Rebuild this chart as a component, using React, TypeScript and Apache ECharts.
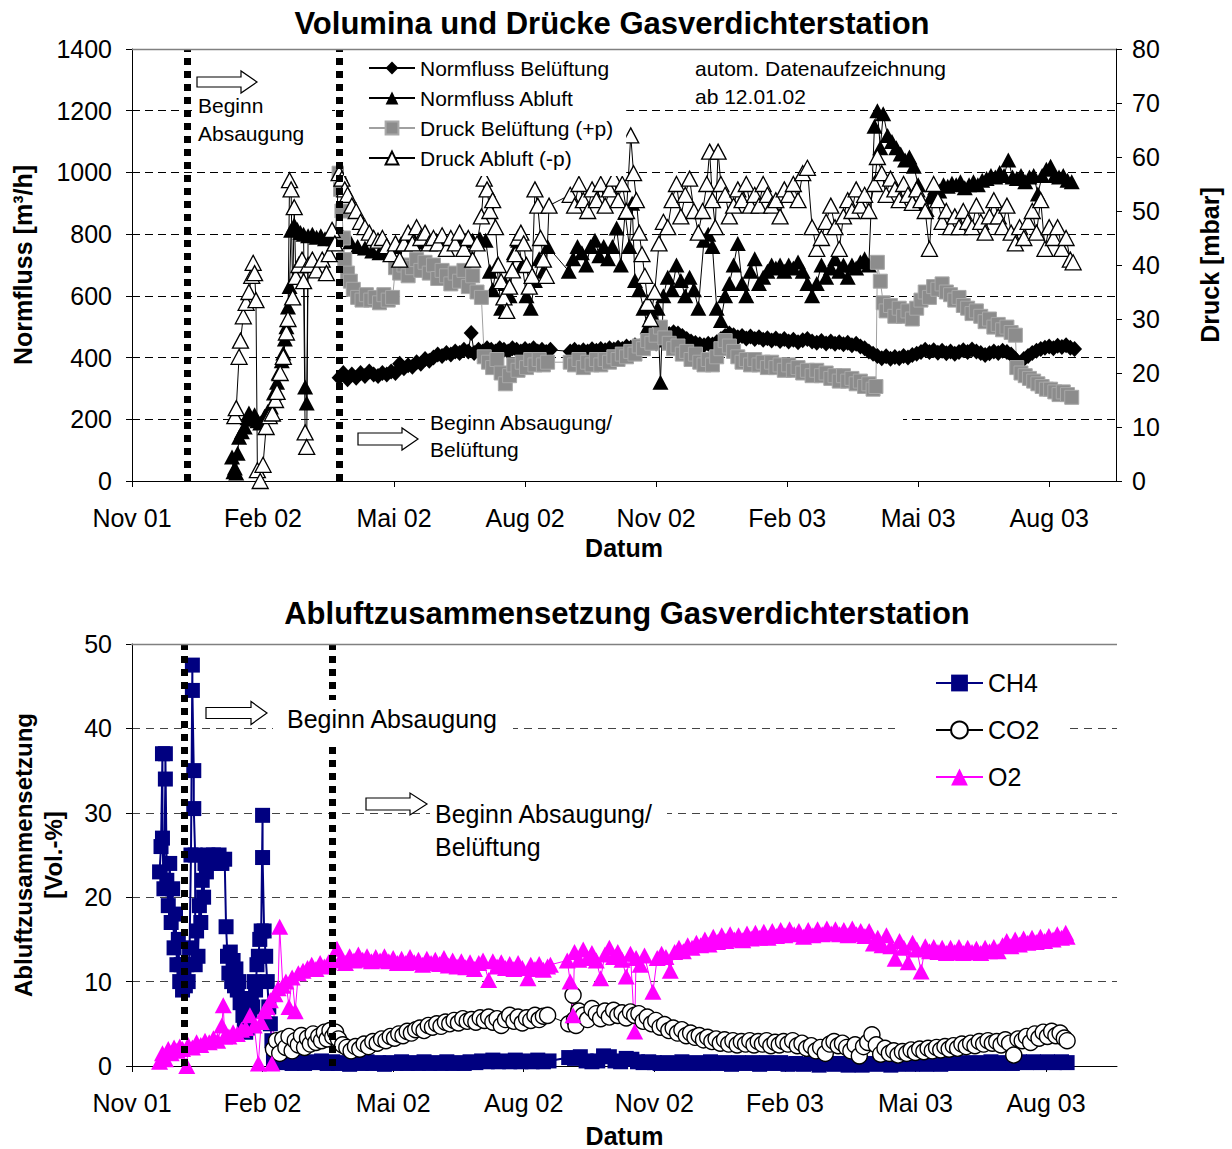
import React, { useEffect, useRef } from "react";
import * as echarts from "echarts";

type Pt = [string, number];

const FONT = "Liberation Sans";

// X axis tick labels (every 3 months from Nov 2001)
const X_TICK_LABELS = ["Nov 01", "Feb 02", "Mai 02", "Aug 02", "Nov 02", "Feb 03", "Mai 03", "Aug 03"];
// Event markers (dotted vertical lines)
const TOP_EVENTS = ["09.12.01", "24.03.02"];
const BOTTOM_EVENTS = ["07.12.01", "20.03.02"];

// ---------- Top chart: Normfluss [m3/h] ----------
const normflussBelueftung: Pt[] = [
  ["24.03.02", 335], ["27.03.02", 350], ["30.03.02", 330], ["02.04.02", 345], ["05.04.02", 335], ["08.04.02", 350],
  ["11.04.02", 340], ["14.04.02", 355], ["17.04.02", 345], ["20.04.02", 340], ["23.04.02", 350], ["26.04.02", 345],
  ["29.04.02", 355], ["02.05.02", 350], ["05.05.02", 380], ["08.05.02", 365], ["11.05.02", 375], ["14.05.02", 370],
  ["17.05.02", 385], ["20.05.02", 380], ["23.05.02", 395], ["26.05.02", 390], ["29.05.02", 400], ["01.06.02", 410],
  ["04.06.02", 405], ["07.06.02", 415], ["10.06.02", 410], ["13.06.02", 420], ["16.06.02", 415], ["19.06.02", 425],
  ["22.06.02", 420], ["24.06.02", 480], ["26.06.02", 415], ["29.06.02", 425], ["02.07.02", 420], ["05.07.02", 430],
  ["08.07.02", 425], ["11.07.02", 420], ["14.07.02", 430], ["17.07.02", 425], ["20.07.02", 420], ["23.07.02", 430],
  ["26.07.02", 425], ["29.07.02", 420], ["01.08.02", 428], ["04.08.02", 422], ["07.08.02", 430], ["10.08.02", 420],
  ["13.08.02", 425], ["16.08.02", 418], ["19.08.02", 425], ["02.09.02", 420], ["05.09.02", 425], ["08.09.02", 418],
  ["11.09.02", 424], ["14.09.02", 420], ["17.09.02", 427], ["20.09.02", 422], ["23.09.02", 428], ["26.09.02", 424],
  ["29.09.02", 430], ["02.10.02", 426], ["05.10.02", 432], ["08.10.02", 428], ["11.10.02", 436], ["14.10.02", 432],
  ["17.10.02", 440], ["20.10.02", 436], ["23.10.02", 445], ["26.10.02", 440], ["29.10.02", 450], ["01.11.02", 446],
  ["04.11.02", 458], ["07.11.02", 468], ["10.11.02", 476], ["13.11.02", 482], ["16.11.02", 478], ["19.11.02", 470],
  ["22.11.02", 460], ["25.11.02", 452], ["28.11.02", 447], ["01.12.02", 443], ["04.12.02", 440], ["07.12.02", 445],
  ["10.12.02", 442], ["13.12.02", 450], ["16.12.02", 460], ["19.12.02", 470], ["22.12.02", 478], ["25.12.02", 472],
  ["28.12.02", 466], ["31.12.02", 470], ["03.01.03", 462], ["06.01.03", 468], ["09.01.03", 460], ["12.01.03", 466],
  ["15.01.03", 458], ["18.01.03", 463], ["21.01.03", 455], ["24.01.03", 462], ["27.01.03", 454], ["30.01.03", 460],
  ["02.02.03", 452], ["05.02.03", 458], ["08.02.03", 450], ["11.02.03", 456], ["14.02.03", 460], ["17.02.03", 452],
  ["20.02.03", 448], ["23.02.03", 454], ["26.02.03", 446], ["01.03.03", 452], ["04.03.03", 445], ["07.03.03", 450],
  ["10.03.03", 443], ["13.03.03", 448], ["16.03.03", 440], ["19.03.03", 445], ["22.03.03", 436], ["25.03.03", 430],
  ["28.03.03", 420], ["31.03.03", 412], ["03.04.03", 405], ["06.04.03", 398], ["09.04.03", 404], ["12.04.03", 396],
  ["15.04.03", 402], ["18.04.03", 398], ["21.04.03", 405], ["24.04.03", 400], ["27.04.03", 408], ["30.04.03", 412],
  ["03.05.03", 418], ["06.05.03", 425], ["09.05.03", 418], ["12.05.03", 424], ["15.05.03", 416], ["18.05.03", 422],
  ["21.05.03", 414], ["24.05.03", 420], ["27.05.03", 412], ["30.05.03", 418], ["02.06.03", 424], ["05.06.03", 418],
  ["08.06.03", 426], ["11.06.03", 420], ["14.06.03", 415], ["17.06.03", 408], ["20.06.03", 414], ["23.06.03", 420],
  ["26.06.03", 415], ["29.06.03", 422], ["02.07.03", 418], ["05.07.03", 410], ["08.07.03", 395], ["11.07.03", 382],
  ["14.07.03", 395], ["17.07.03", 405], ["20.07.03", 415], ["23.07.03", 422], ["26.07.03", 428], ["29.07.03", 432],
  ["01.08.03", 436], ["04.08.03", 430], ["07.08.03", 438], ["10.08.03", 434], ["13.08.03", 440], ["16.08.03", 432],
  ["19.08.03", 428],
];

const normflussAbluft: Pt[] = [
  ["10.01.02", 78], ["11.01.02", 30], ["12.01.02", 42], ["13.01.02", 26], ["14.01.02", 90], ["15.01.02", 142],
  ["17.01.02", 160], ["19.01.02", 175], ["21.01.02", 205], ["22.01.02", 220], ["24.01.02", 200], ["26.01.02", 215],
  ["28.01.02", 195], ["30.01.02", 188], ["02.02.02", 210], ["04.02.02", 225], ["06.02.02", 240], ["08.02.02", 285],
  ["10.02.02", 320], ["11.02.02", 350], ["13.02.02", 390], ["14.02.02", 415], ["15.02.02", 460], ["16.02.02", 500],
  ["17.02.02", 564], ["18.02.02", 630], ["19.02.02", 813], ["21.02.02", 830], ["23.02.02", 815], ["25.02.02", 805],
  ["27.02.02", 800], ["28.02.02", 305], ["01.03.02", 253], ["02.03.02", 795], ["05.03.02", 800], ["08.03.02", 790],
  ["11.03.02", 795], ["14.03.02", 785], ["17.03.02", 790], ["20.03.02", 785], ["23.03.02", 795], ["27.03.02", 790],
  ["01.04.02", 775], ["06.04.02", 760], ["11.04.02", 755], ["16.04.02", 745], ["21.04.02", 740], ["26.04.02", 745],
  ["01.05.02", 760], ["06.05.02", 770], ["11.05.02", 770], ["16.05.02", 775], ["21.05.02", 780], ["26.05.02", 775],
  ["31.05.02", 780], ["05.06.02", 785], ["10.06.02", 780], ["15.06.02", 785], ["20.06.02", 780], ["25.06.02", 780],
  ["30.06.02", 785], ["04.07.02", 780], ["07.07.02", 680], ["09.07.02", 620], ["12.07.02", 700], ["15.07.02", 560],
  ["18.07.02", 640], ["21.07.02", 600], ["24.07.02", 740], ["27.07.02", 780], ["30.07.02", 700], ["02.08.02", 600],
  ["05.08.02", 560], ["08.08.02", 650], ["11.08.02", 720], ["14.08.02", 680], ["17.08.02", 760], ["01.09.02", 680],
  ["04.09.02", 720], ["07.09.02", 760], ["10.09.02", 740], ["13.09.02", 700], ["16.09.02", 760], ["19.09.02", 780],
  ["22.09.02", 730], ["25.09.02", 760], ["28.09.02", 720], ["01.10.02", 760], ["04.10.02", 820], ["07.10.02", 700],
  ["10.10.02", 870], ["13.10.02", 760], ["15.10.02", 900], ["17.10.02", 650], ["20.10.02", 620], ["23.10.02", 560],
  ["26.10.02", 500], ["29.10.02", 540], ["02.11.02", 560], ["04.11.02", 320], ["06.11.02", 600], ["09.11.02", 660],
  ["12.11.02", 620], ["15.11.02", 700], ["18.11.02", 650], ["21.11.02", 600], ["24.11.02", 660], ["27.11.02", 620],
  ["30.11.02", 560], ["04.12.02", 780], ["07.12.02", 800], ["10.12.02", 760], ["13.12.02", 560], ["16.12.02", 520],
  ["19.12.02", 600], ["22.12.02", 640], ["25.12.02", 700], ["28.12.02", 770], ["31.12.02", 640], ["03.01.03", 600],
  ["06.01.03", 680], ["09.01.03", 720], ["12.01.03", 640], ["15.01.03", 660], ["18.01.03", 680], ["21.01.03", 700],
  ["24.01.03", 690], ["27.01.03", 700], ["30.01.03", 680], ["02.02.03", 700], ["05.02.03", 690], ["08.02.03", 710],
  ["11.02.03", 680], ["14.02.03", 640], ["17.02.03", 600], ["20.02.03", 640], ["23.02.03", 700], ["26.02.03", 660],
  ["01.03.03", 690], ["04.03.03", 720], ["07.03.03", 680], ["10.03.03", 700], ["13.03.03", 660], ["16.03.03", 700],
  ["19.03.03", 690], ["22.03.03", 710], ["25.03.03", 720], ["28.03.03", 700], ["01.04.03", 1150], ["03.04.03", 1200],
  ["05.04.03", 1080], ["07.04.03", 1190], ["10.04.03", 1120], ["13.04.03", 1100], ["16.04.03", 1080], ["19.04.03", 1060],
  ["22.04.03", 1040], ["25.04.03", 1050], ["28.04.03", 1020], ["01.05.03", 960], ["04.05.03", 900], ["07.05.03", 880],
  ["10.05.03", 920], ["13.05.03", 950], ["16.05.03", 940], ["19.05.03", 960], ["22.05.03", 955], ["25.05.03", 965],
  ["28.05.03", 960], ["31.05.03", 970], ["03.06.03", 950], ["06.06.03", 960], ["09.06.03", 970], ["12.06.03", 960],
  ["15.06.03", 975], ["18.06.03", 980], ["21.06.03", 990], ["24.06.03", 985], ["27.06.03", 1000], ["30.06.03", 990],
  ["03.07.03", 1040], ["06.07.03", 985], ["09.07.03", 980], ["12.07.03", 990], ["15.07.03", 970], ["18.07.03", 985],
  ["21.07.03", 990], ["24.07.03", 930], ["27.07.03", 990], ["30.07.03", 1010], ["02.08.03", 1020], ["05.08.03", 990],
  ["08.08.03", 985], ["11.08.03", 990], ["14.08.03", 975], ["17.08.03", 970],
];

// ---------- Top chart: Druck [mbar] ----------
const druckBelueftung: Pt[] = [
  ["24.03.02", 57], ["25.03.02", 54], ["26.03.02", 50], ["27.03.02", 45], ["28.03.02", 41], ["30.03.02", 38.5],
  ["01.04.02", 37], ["03.04.02", 35.5], ["06.04.02", 34], ["09.04.02", 33.5], ["12.04.02", 34.5], ["15.04.02", 33.5],
  ["18.04.02", 34], ["21.04.02", 33], ["24.04.02", 34.5], ["27.04.02", 33.5], ["30.04.02", 34], ["02.05.02", 39.5],
  ["05.05.02", 38.5], ["08.05.02", 40], ["11.05.02", 38], ["14.05.02", 39.5], ["17.05.02", 41], ["20.05.02", 39],
  ["23.05.02", 40.5], ["26.05.02", 38.5], ["29.05.02", 40], ["01.06.02", 37.5], ["04.06.02", 39], ["07.06.02", 38],
  ["10.06.02", 36.5], ["13.06.02", 38.5], ["16.06.02", 37], ["19.06.02", 39], ["22.06.02", 36], ["25.06.02", 38],
  ["28.06.02", 35], ["01.07.02", 34], ["03.07.02", 23], ["06.07.02", 22], ["09.07.02", 21], ["12.07.02", 22.5],
  ["15.07.02", 20], ["18.07.02", 18], ["21.07.02", 19.5], ["24.07.02", 21.5], ["27.07.02", 20.5], ["30.07.02", 22],
  ["02.08.02", 21], ["05.08.02", 22.5], ["08.08.02", 21.5], ["11.08.02", 22.5], ["14.08.02", 21.5], ["17.08.02", 22],
  ["02.09.02", 22], ["05.09.02", 21.5], ["08.09.02", 22.5], ["11.09.02", 21], ["14.09.02", 22], ["17.09.02", 21.5],
  ["20.09.02", 22.5], ["23.09.02", 21.5], ["26.09.02", 22.5], ["29.09.02", 22], ["02.10.02", 23], ["05.10.02", 22.5],
  ["08.10.02", 23.5], ["11.10.02", 23], ["14.10.02", 24], ["17.10.02", 23.5], ["20.10.02", 25], ["23.10.02", 24.5],
  ["26.10.02", 26], ["29.10.02", 25.5], ["01.11.02", 27], ["04.11.02", 28.5], ["07.11.02", 26.5], ["10.11.02", 25.5],
  ["13.11.02", 24.5], ["16.11.02", 25], ["19.11.02", 23.5], ["22.11.02", 24], ["25.11.02", 22.5], ["28.11.02", 23.5],
  ["01.12.02", 22], ["04.12.02", 21.5], ["07.12.02", 22.5], ["10.12.02", 21.5], ["13.12.02", 23], ["16.12.02", 24.5],
  ["19.12.02", 26], ["22.12.02", 25], ["25.12.02", 24], ["28.12.02", 23], ["31.12.02", 22], ["03.01.03", 22.5],
  ["06.01.03", 21.5], ["09.01.03", 22.5], ["12.01.03", 21.5], ["15.01.03", 22], ["18.01.03", 21], ["21.01.03", 22],
  ["24.01.03", 21], ["27.01.03", 21.5], ["30.01.03", 20.5], ["02.02.03", 21.5], ["05.02.03", 20.5], ["08.02.03", 21],
  ["11.02.03", 20], ["14.02.03", 20.5], ["17.02.03", 19.5], ["20.02.03", 20.5], ["23.02.03", 19.5], ["26.02.03", 20],
  ["01.03.03", 19], ["04.03.03", 19.5], ["07.03.03", 18.5], ["10.03.03", 19.5], ["13.03.03", 18.5], ["16.03.03", 19],
  ["19.03.03", 18], ["22.03.03", 18.5], ["25.03.03", 17.5], ["28.03.03", 18], ["31.03.03", 17], ["02.04.03", 17.5],
  ["03.04.03", 40.5], ["05.04.03", 37], ["07.04.03", 33], ["09.04.03", 31.5], ["12.04.03", 32.5], ["15.04.03", 30.5],
  ["18.04.03", 32], ["21.04.03", 30.5], ["24.04.03", 31.5], ["27.04.03", 30], ["30.04.03", 32], ["03.05.03", 33.5],
  ["06.05.03", 35], ["09.05.03", 34], ["12.05.03", 36], ["15.05.03", 35.5], ["18.05.03", 36.5], ["21.05.03", 35],
  ["24.05.03", 34.5], ["27.05.03", 33.5], ["30.05.03", 34], ["02.06.03", 32.5], ["05.06.03", 32], ["08.06.03", 31],
  ["11.06.03", 31.5], ["14.06.03", 30.5], ["17.06.03", 29.5], ["20.06.03", 30], ["23.06.03", 28.5], ["26.06.03", 29],
  ["29.06.03", 28], ["02.07.03", 28.5], ["05.07.03", 27.5], ["08.07.03", 27], ["09.07.03", 21], ["12.07.03", 20],
  ["15.07.03", 19.5], ["18.07.03", 19], ["21.07.03", 18.5], ["24.07.03", 18], ["27.07.03", 17.5], ["30.07.03", 17],
  ["02.08.03", 17], ["05.08.03", 16.5], ["08.08.03", 16], ["11.08.03", 16.5], ["14.08.03", 16], ["17.08.03", 15.5],
];

const druckAbluft: Pt[] = [
  ["12.01.02", 12], ["13.01.02", 13.5], ["15.01.02", 23], ["16.01.02", 26], ["18.01.02", 30.5], ["20.01.02", 33],
  ["22.01.02", 35], ["24.01.02", 38], ["25.01.02", 40.4], ["26.01.02", 38.5], ["27.01.02", 33.5], ["28.01.02", 2],
  ["30.01.02", 0], ["01.02.02", 3], ["03.02.02", 10], ["05.02.02", 12], ["07.02.02", 12.5], ["09.02.02", 15],
  ["10.02.02", 16.5], ["12.02.02", 20], ["14.02.02", 23], ["16.02.02", 27.5], ["17.02.02", 30], ["18.02.02", 55.7],
  ["19.02.02", 54], ["20.02.02", 34], ["21.02.02", 50.7], ["22.02.02", 37.8], ["24.02.02", 40], ["26.02.02", 41],
  ["27.02.02", 37], ["28.02.02", 9], ["01.03.02", 6.3], ["02.03.02", 40], ["05.03.02", 41], ["08.03.02", 39],
  ["12.03.02", 41], ["15.03.02", 38.5], ["17.03.02", 42], ["19.03.02", 46.5], ["21.03.02", 44], ["24.03.02", 57],
  ["26.03.02", 56], ["28.03.02", 54], ["30.03.02", 53], ["02.04.02", 51], ["05.04.02", 50], ["08.04.02", 48],
  ["11.04.02", 47], ["14.04.02", 46], ["17.04.02", 45], ["20.04.02", 44.5], ["23.04.02", 45], ["26.04.02", 43.5],
  ["29.04.02", 42], ["02.05.02", 44], ["05.05.02", 41], ["08.05.02", 44], ["11.05.02", 46], ["14.05.02", 44],
  ["17.05.02", 47], ["20.05.02", 45], ["23.05.02", 46], ["26.05.02", 44], ["29.05.02", 45], ["01.06.02", 44],
  ["04.06.02", 45.5], ["07.06.02", 43], ["10.06.02", 45], ["13.06.02", 44], ["16.06.02", 46], ["19.06.02", 43],
  ["22.06.02", 45], ["25.06.02", 41], ["28.06.02", 44], ["01.07.02", 49], ["03.07.02", 56], ["05.07.02", 54],
  ["07.07.02", 50], ["09.07.02", 52], ["11.07.02", 47], ["13.07.02", 40], ["15.07.02", 37], ["17.07.02", 34],
  ["19.07.02", 31.5], ["21.07.02", 36], ["23.07.02", 39], ["25.07.02", 42], ["27.07.02", 45], ["29.07.02", 46],
  ["31.07.02", 44], ["02.08.02", 40], ["04.08.02", 36], ["06.08.02", 38], ["08.08.02", 54], ["10.08.02", 51],
  ["12.08.02", 45], ["14.08.02", 41], ["16.08.02", 38], ["18.08.02", 51], ["02.09.02", 53], ["05.09.02", 51],
  ["08.09.02", 55], ["11.09.02", 52], ["14.09.02", 50], ["17.09.02", 54], ["20.09.02", 52], ["23.09.02", 55],
  ["26.09.02", 51], ["29.09.02", 54], ["02.10.02", 56], ["05.10.02", 52], ["08.10.02", 55], ["11.10.02", 50],
  ["14.10.02", 64], ["16.10.02", 57], ["18.10.02", 52], ["20.10.02", 46], ["22.10.02", 42], ["24.10.02", 38],
  ["26.10.02", 33], ["28.10.02", 30], ["31.10.02", 35], ["03.11.02", 44], ["06.11.02", 48], ["09.11.02", 47],
  ["12.11.02", 52], ["15.11.02", 55], ["18.11.02", 49], ["21.11.02", 53], ["24.11.02", 56], ["27.11.02", 50],
  ["30.11.02", 46], ["03.12.02", 50], ["06.12.02", 55], ["08.12.02", 61], ["10.12.02", 52], ["12.12.02", 47],
  ["14.12.02", 61], ["16.12.02", 55], ["19.12.02", 53], ["22.12.02", 49], ["25.12.02", 51], ["28.12.02", 54],
  ["31.12.02", 52], ["03.01.03", 55], ["06.01.03", 51], ["09.01.03", 53], ["12.01.03", 51], ["15.01.03", 55],
  ["18.01.03", 53], ["21.01.03", 51], ["24.01.03", 52], ["27.01.03", 49], ["30.01.03", 54], ["02.02.03", 53],
  ["05.02.03", 55], ["08.02.03", 52], ["11.02.03", 57], ["14.02.03", 58], ["17.02.03", 47], ["20.02.03", 43],
  ["23.02.03", 45], ["26.02.03", 48], ["01.03.03", 51], ["04.03.03", 47], ["07.03.03", 43], ["10.03.03", 49],
  ["13.03.03", 52], ["16.03.03", 50], ["19.03.03", 54], ["22.03.03", 51], ["25.03.03", 53], ["28.03.03", 50],
  ["01.04.03", 55], ["03.04.03", 60], ["06.04.03", 57], ["09.04.03", 53], ["12.04.03", 56], ["15.04.03", 54],
  ["18.04.03", 52], ["21.04.03", 55], ["24.04.03", 53], ["27.04.03", 51.5], ["30.04.03", 54], ["03.05.03", 52],
  ["06.05.03", 50], ["09.05.03", 43], ["12.05.03", 55], ["15.05.03", 52], ["18.05.03", 48], ["21.05.03", 50],
  ["24.05.03", 47], ["27.05.03", 49], ["30.05.03", 47], ["02.06.03", 50], ["05.06.03", 48], ["08.06.03", 47],
  ["11.06.03", 51], ["14.06.03", 48], ["17.06.03", 46], ["20.06.03", 49], ["23.06.03", 52], ["26.06.03", 49],
  ["29.06.03", 47], ["02.07.03", 51], ["05.07.03", 46], ["08.07.03", 44], ["11.07.03", 47], ["14.07.03", 45],
  ["17.07.03", 48], ["20.07.03", 50], ["23.07.03", 46], ["26.07.03", 52], ["29.07.03", 43], ["01.08.03", 47],
  ["04.08.03", 45], ["07.08.03", 47], ["10.08.03", 43], ["13.08.03", 45], ["16.08.03", 41], ["18.08.03", 40.5],
];

// ---------- Bottom chart: Abluftzusammensetzung [Vol.-%] ----------
const ch4: Pt[] = [
  ["20.11.01", 23], ["21.11.01", 26], ["22.11.01", 37], ["22.11.01", 27], ["23.11.01", 21], ["24.11.01", 34],
  ["24.11.01", 37], ["25.11.01", 22], ["26.11.01", 19], ["27.11.01", 24], ["28.11.01", 17], ["29.11.01", 21],
  ["30.11.01", 14], ["01.12.01", 18], ["02.12.01", 12], ["03.12.01", 15], ["04.12.01", 10], ["05.12.01", 12],
  ["06.12.01", 9], ["07.12.01", 11], ["08.12.01", 9.5], ["09.12.01", 12], ["10.12.01", 10], ["11.12.01", 14],
  ["12.12.01", 25], ["13.12.01", 47.5], ["13.12.01", 44.5], ["14.12.01", 35], ["14.12.01", 30.5], ["15.12.01", 25],
  ["15.12.01", 12], ["16.12.01", 16], ["17.12.01", 13], ["18.12.01", 19], ["19.12.01", 17], ["20.12.01", 22],
  ["21.12.01", 20], ["22.12.01", 24], ["23.12.01", 23], ["24.12.01", 25], ["26.12.01", 24], ["28.12.01", 25],
  ["30.12.01", 24], ["01.01.02", 25], ["03.01.02", 24], ["05.01.02", 24.5], ["06.01.02", 16.5], ["07.01.02", 13],
  ["08.01.02", 11], ["09.01.02", 13.5], ["10.01.02", 10], ["11.01.02", 12.5], ["12.01.02", 9.5], ["13.01.02", 11.5],
  ["14.01.02", 9], ["15.01.02", 10], ["16.01.02", 7.5], ["17.01.02", 8], ["18.01.02", 6], ["19.01.02", 5],
  ["20.01.02", 4], ["21.01.02", 4.5], ["22.01.02", 5], ["23.01.02", 6.5], ["24.01.02", 8], ["25.01.02", 7],
  ["26.01.02", 10], ["27.01.02", 9], ["28.01.02", 12], ["29.01.02", 13], ["30.01.02", 15], ["31.01.02", 16],
  ["01.02.02", 29.7], ["01.02.02", 24.7], ["02.02.02", 16], ["03.02.02", 13], ["04.02.02", 10], ["05.02.02", 7],
  ["06.02.02", 5], ["07.02.02", 3], ["08.02.02", 0.8], ["12.02.02", 0.4], ["16.02.02", 0.6], ["20.02.02", 0.3],
  ["24.02.02", 0.5], ["28.02.02", 0.3], ["04.03.02", 0.5], ["08.03.02", 0.4], ["12.03.02", 0.6], ["16.03.02", 0.3],
  ["20.03.02", 0.5], ["24.03.02", 0.3], ["28.03.02", 0.4], ["01.04.02", 0.2], ["05.04.02", 0.4], ["09.04.02", 0.3],
  ["13.04.02", 0.5], ["17.04.02", 0.3], ["21.04.02", 0.4], ["25.04.02", 0.2], ["29.04.02", 0.4], ["03.05.02", 0.3],
  ["07.05.02", 0.5], ["11.05.02", 0.3], ["15.05.02", 0.4], ["19.05.02", 0.3], ["23.05.02", 0.5], ["27.05.02", 0.3],
  ["31.05.02", 0.4], ["04.06.02", 0.3], ["08.06.02", 0.5], ["12.06.02", 0.3], ["16.06.02", 0.4], ["20.06.02", 0.3],
  ["24.06.02", 0.5], ["28.06.02", 0.4], ["02.07.02", 0.6], ["06.07.02", 0.5], ["10.07.02", 0.7], ["14.07.02", 0.5],
  ["18.07.02", 0.6], ["22.07.02", 0.5], ["26.07.02", 0.7], ["30.07.02", 0.5], ["03.08.02", 0.6], ["07.08.02", 0.5],
  ["11.08.02", 0.7], ["15.08.02", 0.5], ["19.08.02", 0.6], ["02.09.02", 1.0], ["06.09.02", 0.9], ["10.09.02", 1.1],
  ["14.09.02", 0.6], ["18.09.02", 0.5], ["22.09.02", 0.6], ["26.09.02", 1.2], ["30.09.02", 1.1], ["04.10.02", 0.6],
  ["08.10.02", 0.5], ["12.10.02", 0.9], ["16.10.02", 0.8], ["20.10.02", 0.5], ["24.10.02", 0.4], ["28.10.02", 0.5],
  ["01.11.02", 0.4], ["05.11.02", 0.3], ["10.11.02", 0.4], ["15.11.02", 0.3], ["20.11.02", 0.5], ["25.11.02", 0.3],
  ["30.11.02", 0.4], ["05.12.02", 0.3], ["10.12.02", 0.5], ["15.12.02", 0.3], ["20.12.02", 0.4], ["25.12.02", 0.2],
  ["30.12.02", 0.4], ["04.01.03", 0.3], ["09.01.03", 0.4], ["14.01.03", 0.2], ["19.01.03", 0.4], ["24.01.03", 0.3],
  ["29.01.03", 0.4], ["03.02.03", 0.2], ["08.02.03", 0.3], ["13.02.03", 0.2], ["18.02.03", 0.3], ["23.02.03", 0.1],
  ["28.02.03", 0.3], ["05.03.03", 0.2], ["10.03.03", 0.3], ["15.03.03", 0.1], ["20.03.03", 0.2], ["25.03.03", 0.1],
  ["30.03.03", 0.3], ["04.04.03", 0.2], ["09.04.03", 0.3], ["14.04.03", 0.1], ["19.04.03", 0.2], ["24.04.03", 0.3],
  ["29.04.03", 0.2], ["04.05.03", 0.3], ["09.05.03", 0.2], ["14.05.03", 0.3], ["19.05.03", 0.2], ["24.05.03", 0.4],
  ["29.05.03", 0.3], ["03.06.03", 0.4], ["08.06.03", 0.3], ["13.06.03", 0.4], ["18.06.03", 0.3], ["23.06.03", 0.5],
  ["28.06.03", 0.3], ["03.07.03", 0.4], ["08.07.03", 0.3], ["13.07.03", 0.5], ["18.07.03", 0.4], ["23.07.03", 0.5],
  ["28.07.03", 0.4], ["02.08.03", 0.5], ["07.08.03", 0.4], ["12.08.03", 0.5], ["16.08.03", 0.4],
];

const co2: Pt[] = [
  ["08.02.02", 2], ["10.02.02", 3], ["12.02.02", 1.5], ["14.02.02", 3.2], ["16.02.02", 2.2], ["18.02.02", 3.5],
  ["20.02.02", 1.8], ["22.02.02", 3], ["24.02.02", 2.5], ["26.02.02", 3.6], ["28.02.02", 2.2], ["02.03.02", 3.3],
  ["04.03.02", 2.6], ["06.03.02", 3.8], ["08.03.02", 2.8], ["10.03.02", 3.5], ["12.03.02", 3], ["14.03.02", 4],
  ["16.03.02", 3.2], ["18.03.02", 4.2], ["20.03.02", 3.5], ["22.03.02", 4], ["24.03.02", 3.2], ["27.03.02", 2.5],
  ["30.03.02", 2.2], ["02.04.02", 1.8], ["05.04.02", 2.3], ["08.04.02", 2], ["11.04.02", 2.6], ["14.04.02", 2.3],
  ["17.04.02", 2.9], ["20.04.02", 2.7], ["23.04.02", 3.2], ["26.04.02", 3], ["29.04.02", 3.5], ["02.05.02", 3.3],
  ["05.05.02", 3.8], ["08.05.02", 3.6], ["11.05.02", 4.1], ["14.05.02", 3.9], ["17.05.02", 4.3], ["20.05.02", 4.5],
  ["23.05.02", 4.2], ["26.05.02", 4.8], ["29.05.02", 4.6], ["01.06.02", 5], ["04.06.02", 4.7], ["07.06.02", 5.2],
  ["10.06.02", 5], ["13.06.02", 5.4], ["16.06.02", 5.1], ["19.06.02", 5.6], ["22.06.02", 5.3], ["25.06.02", 5.5],
  ["28.06.02", 5.2], ["01.07.02", 5.7], ["04.07.02", 5.4], ["07.07.02", 5.8], ["10.07.02", 5.2], ["13.07.02", 5.6],
  ["16.07.02", 4.8], ["19.07.02", 5.5], ["22.07.02", 6], ["25.07.02", 5.3], ["28.07.02", 5.8], ["31.07.02", 5.1],
  ["03.08.02", 5.7], ["06.08.02", 5.4], ["09.08.02", 6], ["12.08.02", 5.5], ["15.08.02", 5.9], ["18.08.02", 6],
  ["02.09.02", 5], ["05.09.02", 8.4], ["06.09.02", 5.5], ["07.09.02", 4.8], ["09.09.02", 6.5], ["12.09.02", 6],
  ["15.09.02", 5.5], ["18.09.02", 6.8], ["21.09.02", 6.2], ["24.09.02", 5.6], ["27.09.02", 6.5], ["30.09.02", 5.8],
  ["03.10.02", 6.6], ["06.10.02", 6], ["09.10.02", 6.3], ["12.10.02", 5.7], ["15.10.02", 6.4], ["18.10.02", 6],
  ["21.10.02", 6.2], ["24.10.02", 5.3], ["27.10.02", 5.8], ["30.10.02", 5], ["02.11.02", 5.4], ["05.11.02", 4.6],
  ["08.11.02", 4.9], ["11.11.02", 4.2], ["14.11.02", 4.5], ["17.11.02", 3.9], ["20.11.02", 4.3], ["23.11.02", 3.6],
  ["26.11.02", 3.9], ["29.11.02", 3.4], ["02.12.02", 3.6], ["05.12.02", 3.1], ["08.12.02", 3.4], ["11.12.02", 2.9],
  ["14.12.02", 3.2], ["17.12.02", 2.7], ["20.12.02", 3.1], ["23.12.02", 2.6], ["26.12.02", 3], ["29.12.02", 2.5],
  ["01.01.03", 2.9], ["04.01.03", 2.6], ["07.01.03", 3], ["10.01.03", 2.5], ["13.01.03", 2.9], ["16.01.03", 2.6],
  ["19.01.03", 3], ["22.01.03", 2.4], ["25.01.03", 2.8], ["28.01.03", 2.5], ["31.01.03", 2.9], ["03.02.03", 2.6],
  ["06.02.03", 3], ["09.02.03", 2.4], ["12.02.03", 2.7], ["15.02.03", 2.1], ["18.02.03", 2.4], ["21.02.03", 1.8],
  ["24.02.03", 2.2], ["27.02.03", 1.5], ["02.03.03", 2.6], ["05.03.03", 2.9], ["08.03.03", 2.4], ["11.03.03", 2.7],
  ["14.03.03", 2.2], ["17.03.03", 1.8], ["20.03.03", 2.5], ["23.03.03", 1.2], ["26.03.03", 2.3], ["29.03.03", 2.8],
  ["01.04.03", 3.7], ["04.04.03", 2.5], ["07.04.03", 1.4], ["10.04.03", 2.1], ["13.04.03", 1.5], ["16.04.03", 1.8],
  ["19.04.03", 1.3], ["22.04.03", 1.7], ["25.04.03", 1.5], ["28.04.03", 1.9], ["01.05.03", 1.6], ["04.05.03", 2],
  ["07.05.03", 1.7], ["10.05.03", 2.1], ["13.05.03", 1.8], ["16.05.03", 2.2], ["19.05.03", 1.9], ["22.05.03", 2.3],
  ["25.05.03", 2], ["28.05.03", 2.4], ["31.05.03", 2.1], ["03.06.03", 2.6], ["06.06.03", 2.3], ["09.06.03", 2.7],
  ["12.06.03", 2.4], ["15.06.03", 2.9], ["18.06.03", 2.6], ["21.06.03", 3], ["24.06.03", 2.7], ["27.06.03", 2.9],
  ["30.06.03", 2.5], ["03.07.03", 3.1], ["06.07.03", 2.7], ["09.07.03", 1.3], ["12.07.03", 3.2], ["15.07.03", 3],
  ["18.07.03", 3.5], ["21.07.03", 2.8], ["24.07.03", 3.8], ["27.07.03", 3.3], ["30.07.03", 4], ["02.08.03", 3.5],
  ["05.08.03", 4.1], ["08.08.03", 3.6], ["11.08.03", 3.9], ["14.08.03", 3.3], ["16.08.03", 3],
];

const o2: Pt[] = [
  ["20.11.01", 0.5], ["22.11.01", 1.5], ["24.11.01", 0.8], ["26.11.01", 2], ["28.11.01", 1.5], ["30.11.01", 2.2],
  ["02.12.01", 1.8], ["04.12.01", 2.3], ["06.12.01", 2], ["09.12.01", 0], ["10.12.01", 2.5], ["13.12.01", 2.2],
  ["16.12.01", 2.8], ["19.12.01", 2.5], ["22.12.01", 3], ["25.12.01", 2.8], ["28.12.01", 3.3], ["31.12.01", 3],
  ["03.01.02", 4.8], ["04.01.02", 7.2], ["05.01.02", 3.5], ["08.01.02", 3.5], ["11.01.02", 4], ["14.01.02", 3.8],
  ["17.01.02", 4.3], ["20.01.02", 4.5], ["23.01.02", 6], ["26.01.02", 4.8], ["29.01.02", 0.3], ["31.01.02", 5.2],
  ["02.02.02", 6.5], ["04.02.02", 7], ["06.02.02", 7.8], ["07.02.02", 0.3], ["09.02.02", 8.5], ["11.02.02", 9.2],
  ["12.02.02", 16.5], ["14.02.02", 9.5], ["16.02.02", 10], ["18.02.02", 7], ["20.02.02", 10.5], ["22.02.02", 6.5],
  ["24.02.02", 11], ["27.02.02", 11.3], ["02.03.02", 11.6], ["05.03.02", 12], ["08.03.02", 11.5], ["11.03.02", 12.2],
  ["14.03.02", 11.8], ["17.03.02", 12.3], ["20.03.02", 12.5], ["23.03.02", 13.9], ["26.03.02", 12.8], ["29.03.02", 12.2],
  ["01.04.02", 13], ["04.04.02", 12.5], ["07.04.02", 13.2], ["10.04.02", 12.6], ["13.04.02", 13], ["16.04.02", 12.4],
  ["19.04.02", 12.9], ["22.04.02", 12.5], ["25.04.02", 13], ["28.04.02", 12.4], ["01.05.02", 12.8], ["04.05.02", 12.2],
  ["07.05.02", 12.7], ["10.05.02", 12.2], ["13.05.02", 12.9], ["16.05.02", 12.3], ["19.05.02", 12.6], ["22.05.02", 12],
  ["25.05.02", 12.7], ["28.05.02", 12.2], ["31.05.02", 12.6], ["03.06.02", 12.1], ["06.06.02", 12.8], ["09.06.02", 11.9],
  ["12.06.02", 12.5], ["15.06.02", 11.8], ["18.06.02", 12.4], ["21.06.02", 11.7], ["24.06.02", 12.3], ["27.06.02", 11.5],
  ["30.06.02", 12.2], ["03.07.02", 12.5], ["07.07.02", 10.2], ["10.07.02", 12.4], ["13.07.02", 11.8], ["16.07.02", 12.3],
  ["19.07.02", 11.6], ["22.07.02", 12.1], ["25.07.02", 11.5], ["28.07.02", 12.2], ["31.07.02", 11.6], ["04.08.02", 10.4],
  ["06.08.02", 12], ["09.08.02", 11.5], ["12.08.02", 12.1], ["15.08.02", 11.4], ["18.08.02", 11.8], ["20.08.02", 12],
  ["01.09.02", 12.5], ["03.09.02", 10], ["05.09.02", 6], ["06.09.02", 13.5], ["09.09.02", 12.6], ["12.09.02", 13.8],
  ["15.09.02", 12.8], ["18.09.02", 13.4], ["21.09.02", 12.5], ["24.09.02", 10.4], ["27.09.02", 13.2], ["30.09.02", 14],
  ["03.10.02", 12.9], ["06.10.02", 13.5], ["09.10.02", 12.6], ["12.10.02", 10.6], ["15.10.02", 13.3], ["18.10.02", 4.1],
  ["19.10.02", 12.8], ["22.10.02", 12], ["25.10.02", 13.1], ["31.10.02", 8.8], ["03.11.02", 12.8], ["06.11.02", 13.3],
  ["09.11.02", 12.9], ["12.11.02", 11.3], ["15.11.02", 13.5], ["18.11.02", 14], ["21.11.02", 13.6], ["24.11.02", 14.3],
  ["27.11.02", 14], ["30.11.02", 14.6], ["03.12.02", 14.3], ["06.12.02", 15], ["09.12.02", 14.4], ["12.12.02", 15.3],
  ["15.12.02", 14.7], ["18.12.02", 15.5], ["21.12.02", 14.8], ["24.12.02", 15.6], ["27.12.02", 15], ["30.12.02", 15.5],
  ["02.01.03", 14.9], ["05.01.03", 15.7], ["08.01.03", 15.1], ["11.01.03", 15.8], ["14.01.03", 15.2], ["17.01.03", 15.9],
  ["20.01.03", 15.2], ["23.01.03", 16], ["26.01.03", 15.4], ["29.01.03", 16.1], ["01.02.03", 15.5], ["04.02.03", 16.2],
  ["07.02.03", 15.6], ["10.02.03", 16], ["13.02.03", 15.3], ["16.02.03", 16.1], ["19.02.03", 15.5], ["22.02.03", 16.2],
  ["25.02.03", 15.6], ["28.02.03", 16.3], ["03.03.03", 15.7], ["06.03.03", 16.2], ["09.03.03", 15.6], ["12.03.03", 16.1],
  ["15.03.03", 15.5], ["18.03.03", 16.3], ["21.03.03", 15.6], ["24.03.03", 16], ["27.03.03", 15.4], ["30.03.03", 16],
  ["02.04.03", 14.5], ["05.04.03", 15.2], ["08.04.03", 14.3], ["11.04.03", 15.5], ["14.04.03", 14.2], ["17.04.03", 12.7],
  ["20.04.03", 14.8], ["23.04.03", 14], ["26.04.03", 12.3], ["29.04.03", 14.6], ["02.05.03", 13.8], ["05.05.03", 11.2],
  ["08.05.03", 14.2], ["11.05.03", 13.6], ["14.05.03", 14.1], ["17.05.03", 13.5], ["20.05.03", 14], ["23.05.03", 13.4],
  ["26.05.03", 14], ["29.05.03", 13.5], ["01.06.03", 14.1], ["04.06.03", 13.4], ["07.06.03", 14], ["10.06.03", 13.5],
  ["13.06.03", 13.9], ["16.06.03", 13.4], ["19.06.03", 14], ["22.06.03", 13.6], ["25.06.03", 14.1], ["28.06.03", 13.6],
  ["01.07.03", 14.3], ["04.07.03", 14.8], ["07.07.03", 14.2], ["10.07.03", 15], ["13.07.03", 14.4], ["16.07.03", 15.1],
  ["19.07.03", 14.6], ["22.07.03", 15.2], ["25.07.03", 14.7], ["28.07.03", 15.3], ["31.07.03", 14.8], ["03.08.03", 15.4],
  ["06.08.03", 15], ["09.08.03", 15.6], ["12.08.03", 15.2], ["15.08.03", 15.8], ["16.08.03", 15.3],
];

// month index since 1 Nov 2001 (fractional), used as x value
function monthIndex(s: string): number {
  const [d, m, y] = s.split(".").map(Number);
  const year = 2000 + y;
  const dim = new Date(year, m, 0).getDate();
  return (year - 2001) * 12 + (m - 11) + (d - 1) / dim;
}
const toXY = (pts: Pt[]) => pts.map(([d, v]) => [monthIndex(d), v]);

function xAxisCfg(gridIndex: number, max: number, nameGap: number) {
  return {
    type: "value",
    gridIndex,
    min: 0,
    max,
    interval: 3,
    name: "Datum",
    nameLocation: "middle",
    nameGap,
    nameTextStyle: { fontSize: 25, fontWeight: "bold", color: "#000", fontFamily: FONT },
    axisLine: { show: true, onZero: false, lineStyle: { color: "#000", width: 1 } },
    axisTick: { show: true, length: 6, inside: false, lineStyle: { color: "#000" } },
    axisLabel: {
      fontSize: 25,
      color: "#000",
      fontFamily: FONT,
      margin: 24,
      showMaxLabel: false,
      formatter: (v: number) => {
        const i = Math.round(v / 3);
        return Math.abs(v - i * 3) < 1e-6 && i < X_TICK_LABELS.length ? X_TICK_LABELS[i] : "";
      },
    },
    splitLine: { show: false },
  };
}

function arrow(x0: number, x1: number, xh: number, yc: number, bh: number, hh: number) {
  return {
    type: "polygon",
    z: 30,
    shape: {
      points: [
        [x0, yc - bh], [xh, yc - bh], [xh, yc - hh], [x1, yc], [xh, yc + hh], [xh, yc + bh], [x0, yc + bh],
      ],
    },
    style: { fill: "#fff", stroke: "#000", lineWidth: 1.2 },
  };
}

function textEl(text: string, x: number, y: number, size: number, lineHeight: number, bold = false, vAlign = "top", hAlign = "left") {
  return {
    type: "text",
    z: 30,
    x,
    y,
    style: {
      text,
      fill: "#000",
      font: `${bold ? "bold " : ""}${size}px "${FONT}"`,
      fontSize: size,
      fontFamily: FONT,
      fontWeight: bold ? "bold" : "normal",
      lineHeight,
      align: hAlign,
      textAlign: hAlign,
      verticalAlign: vAlign,
      textVerticalAlign: vAlign,
    },
  };
}

function whiteRect(x: number, y: number, width: number, height: number) {
  return { type: "rect", z: 25, shape: { x, y, width, height }, style: { fill: "#fff" } };
}

function vLines(dates: string[]) {
  return {
    silent: true,
    symbol: ["none", "none"],
    label: { show: false },
    lineStyle: { color: "#000", width: 7, type: [7, 6], cap: "butt" },
    data: dates.map((d) => ({ xAxis: monthIndex(d) })),
  };
}

const plainNum = (v: number) => String(v);

export default function App() {
  const ref = useRef<HTMLDivElement>(null);

  useEffect(() => {
    if (!ref.current) return;
    const chart = echarts.init(ref.current, undefined, { renderer: "svg" });

    const axisName = { fontSize: 25, fontWeight: "bold", color: "#000", fontFamily: FONT };
    const axisLbl = { fontSize: 25, color: "#000", fontFamily: FONT, formatter: plainNum };

    const option: any = {
      animation: false,
      textStyle: { fontFamily: FONT },
      grid: [
        { left: 132, top: 49, width: 984, height: 432 },
        { left: 131, top: 644, width: 986, height: 424 },
      ],
      xAxis: [xAxisCfg(0, 22.53, 54), xAxisCfg(1, 22.63, 57)],
      yAxis: [
        {
          type: "value", gridIndex: 0, min: 0, max: 1400, interval: 200,
          name: "Normfluss [m³/h]", nameLocation: "middle", nameRotate: 90, nameGap: 97, nameTextStyle: axisName,
          axisLine: { show: true, lineStyle: { color: "#000" } },
          axisTick: { show: true, length: 6, lineStyle: { color: "#000" } },
          axisLabel: { ...axisLbl, margin: 20 },
          splitLine: { show: true, lineStyle: { color: "#000", width: 1, type: [8, 5] } },
        },
        {
          type: "value", gridIndex: 0, position: "right", min: 0, max: 80, interval: 10,
          name: "Druck [mbar]", nameLocation: "middle", nameRotate: 90, nameGap: 81, nameTextStyle: axisName,
          axisLine: { show: true, lineStyle: { color: "#000" } },
          axisTick: { show: true, length: 6, lineStyle: { color: "#000" } },
          axisLabel: { ...axisLbl, margin: 16 },
          splitLine: { show: false },
        },
        {
          type: "value", gridIndex: 1, min: 0, max: 50, interval: 10,
          name: "Abluftzusammensetzung\n[Vol.-%]", nameLocation: "middle", nameRotate: 90, nameGap: 64,
          nameTextStyle: { ...axisName, fontSize: 24, lineHeight: 30 },
          axisLine: { show: true, lineStyle: { color: "#000" } },
          axisTick: { show: true, length: 6, lineStyle: { color: "#000" } },
          axisLabel: { ...axisLbl, margin: 20 },
          splitLine: { show: true, lineStyle: { color: "#444", width: 1, type: [8, 6] } },
        },
      ],
      legend: [
        {
          data: ["Normfluss Belüftung", "Normfluss Abluft", "Druck Belüftung (+p)", "Druck Abluft (-p)"],
          orient: "vertical", left: 344, top: 50,
          itemWidth: 46, itemHeight: 16, itemGap: 8,
          padding: [7, 13, 7, 24],
          backgroundColor: "#fff",
          selectedMode: false,
          textStyle: { fontSize: 21, color: "#000", fontFamily: FONT, lineHeight: 22 },
        },
        {
          data: ["CH4", "CO2", "O2"],
          orient: "vertical", left: 895, top: 660,
          itemWidth: 47, itemHeight: 21, itemGap: 21,
          padding: [10, 25, 10, 40],
          backgroundColor: "#fff",
          selectedMode: false,
          textStyle: { fontSize: 25, color: "#000", fontFamily: FONT, lineHeight: 26 },
        },
      ],
      series: [
        {
          name: "Normfluss Belüftung", type: "line", xAxisIndex: 0, yAxisIndex: 0,
          data: toXY(normflussBelueftung), symbol: "diamond", symbolSize: [15, 16],
          itemStyle: { color: "#000" }, lineStyle: { color: "#000", width: 1 },
          markLine: vLines(TOP_EVENTS),
        },
        {
          name: "Normfluss Abluft", type: "line", xAxisIndex: 0, yAxisIndex: 0,
          data: toXY(normflussAbluft), symbol: "triangle", symbolSize: [16, 15],
          itemStyle: { color: "#000" }, lineStyle: { color: "#000", width: 1 },
        },
        {
          name: "Druck Belüftung (+p)", type: "line", xAxisIndex: 0, yAxisIndex: 1,
          data: toXY(druckBelueftung), symbol: "rect", symbolSize: 14,
          itemStyle: { color: "#8c8c8c", borderColor: "#a8a8a8", borderWidth: 1 },
          lineStyle: { color: "#a0a0a0", width: 1 },
        },
        {
          name: "Druck Abluft (-p)", type: "line", xAxisIndex: 0, yAxisIndex: 1,
          data: toXY(druckAbluft), symbol: "triangle", symbolSize: [16, 15],
          itemStyle: { color: "#fff", borderColor: "#000", borderWidth: 1.3 },
          lineStyle: { color: "#000", width: 1 },
        },
        {
          name: "CH4", type: "line", xAxisIndex: 1, yAxisIndex: 2,
          data: toXY(ch4), symbol: "rect", symbolSize: 15,
          itemStyle: { color: "#000080" }, lineStyle: { color: "#000080", width: 2 },
          markLine: vLines(BOTTOM_EVENTS),
        },
        {
          name: "CO2", type: "line", xAxisIndex: 1, yAxisIndex: 2,
          data: toXY(co2), symbol: "circle", symbolSize: 16,
          itemStyle: { color: "#fff", borderColor: "#000", borderWidth: 1.4 },
          lineStyle: { color: "#000", width: 1 },
        },
        {
          name: "O2", type: "line", xAxisIndex: 1, yAxisIndex: 2,
          data: toXY(o2), symbol: "triangle", symbolSize: [17, 16],
          itemStyle: { color: "#ff00ff" }, lineStyle: { color: "#ff00ff", width: 1 },
        },
      ],
      graphic: {
        elements: [
          // plot area top borders
          { type: "line", z: 20, shape: { x1: 132, y1: 49.5, x2: 1116, y2: 49.5 }, style: { stroke: "#808080", lineWidth: 1.5 } },
          { type: "line", z: 20, shape: { x1: 131, y1: 644.5, x2: 1117, y2: 644.5 }, style: { stroke: "#808080", lineWidth: 1.5 } },
          // titles
          textEl("Volumina und Drücke Gasverdichterstation", 612, 23, 31, 34, true, "middle", "center"),
          textEl("Abluftzusammensetzung Gasverdichterstation", 627, 613, 31, 34, true, "middle", "center"),
          // top chart annotations
          whiteRect(192, 89, 140, 58),
          textEl("Beginn\nAbsaugung", 198, 91, 21, 28),
          arrow(197, 257, 241, 82, 5, 11),
          textEl("autom. Datenaufzeichnung\nab 12.01.02", 695, 54, 21, 28),
          whiteRect(425, 406, 478, 58),
          textEl("Beginn Absaugung/\nBelüftung", 430, 408.5, 21, 27),
          arrow(358, 418, 402, 439, 6, 11),
          // bottom chart annotations
          whiteRect(273, 700, 240, 42),
          textEl("Beginn Absaugung", 287, 719, 25, 30, false, "middle"),
          arrow(206, 267, 251, 713, 5.5, 11.5),
          whiteRect(430, 795, 237, 70),
          textEl("Beginn Absaugung/\nBelüftung", 435, 797.5, 25, 33),
          arrow(366, 427, 410, 804, 6, 11),
        ],
      },
    };

    chart.setOption(option);
    return () => chart.dispose();
  }, []);

  return <div ref={ref} style={{ position: "absolute", left: 0, top: 0, width: 1232, height: 1149, background: "#fff" }} />;
}
